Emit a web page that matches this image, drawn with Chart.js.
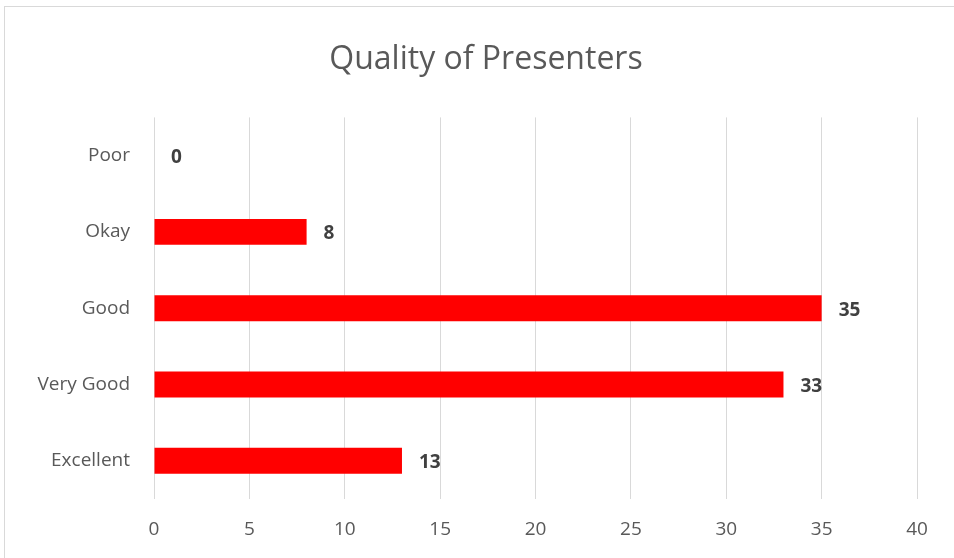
<!DOCTYPE html>
<html>
<head>
<meta charset="utf-8">
<script src="https://cdn.jsdelivr.net/npm/chart.js@4"></script>
<style>
  body { margin: 0; background: #fff; }
  #frame { position: absolute; left: 4px; top: 6px; width: 960px; height: 560px; border: 1px solid #d9d9d9; }
  #wrap { position: absolute; left: 0; top: 0; width: 954px; height: 558px; }
</style>
</head>
<body>
<div id="frame"></div>
<div id="wrap"><canvas id="qualityChart"></canvas></div>
<script>
const categories = ["Poor", "Okay", "Good", "Very Good", "Excellent"];
const counts = [0, 8, 35, 33, 13];
const xTicks = [0, 5, 10, 15, 20, 25, 30, 35, 40];

const FONT = "'Open Sans', sans-serif";
const GREY = "#595959";

// draw value next to the end of each bar
const valueLabels = {
  id: "valueLabels",
  afterDatasetsDraw(chart) {
    const ctx = chart.ctx;
    const meta = chart.getDatasetMeta(0);
    ctx.save();
    ctx.font = "bold 19px " + FONT;
    ctx.fillStyle = "#404040";
    ctx.textAlign = "left";
    ctx.textBaseline = "middle";
    meta.data.forEach((bar, i) => {
      ctx.fillText(String(counts[i]), bar.x + 17, bar.y + 2);
    });
    ctx.restore();
  },
};

// centre the title on the whole frame, not just the padded box
const titleCentre = {
  id: "titleCentre",
  afterLayout(chart) {
    if (chart.titleBlock) {
      chart.titleBlock.left = 0;
      chart.titleBlock.right = 972;
    }
  },
};

const quality = document.getElementById("qualityChart");

new Chart(quality, {
  type: "bar",
  data: {
    labels: categories,
    datasets: [
      {
        label: "Count",
        data: counts,
        backgroundColor: "#ff0000",
        borderWidth: 0,
        barPercentage: 0.34,
        categoryPercentage: 1,
      },
    ],
  },
  options: {
    indexAxis: "y",
    responsive: true,
    maintainAspectRatio: false,
    animation: false,
    layout: {
      padding: { left: 0, right: 37, top: 0, bottom: 0 },
    },
    scales: {
      x: {
        min: 0,
        max: 40,
        afterBuildTicks: (scale) => {
          scale.ticks = xTicks.map((v) => ({ value: v }));
        },
        afterFit: (scale) => {
          scale.height = 59;
        },
        grid: {
          color: "#d9d9d9",
          lineWidth: 1,
          drawTicks: false,
        },
        border: { display: false },
        ticks: {
          color: GREY,
          padding: 19,
          font: { family: FONT, size: 19 },
        },
      },
      y: {
        afterFit: (scale) => {
          scale.width = 154;
        },
        grid: { display: false },
        border: { display: false },
        ticks: {
          color: GREY,
          padding: 16,
          font: { family: FONT, size: 19 },
        },
      },
    },
    plugins: {
      legend: { display: false },
      tooltip: { enabled: false },
      title: {
        display: true,
        text: "Quality of Presenters",
        color: GREY,
        font: { family: FONT, size: 32, weight: "normal" },
        padding: { top: 41, bottom: 38 },
      },
    },
  },
  plugins: [valueLabels, titleCentre],
});
</script>
</body>
</html>
